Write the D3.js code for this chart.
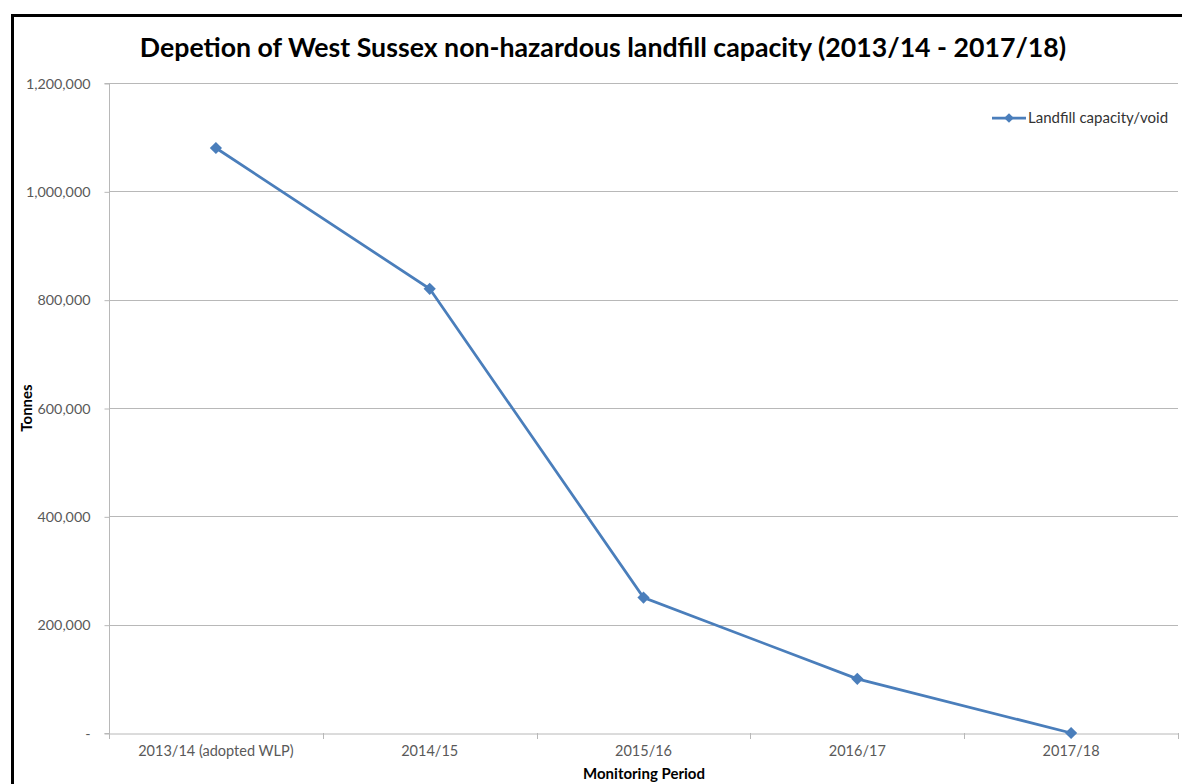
<!DOCTYPE html>
<html><head><meta charset="utf-8">
<script src="https://cdn.jsdelivr.net/npm/d3@7"></script>
<style>html,body{margin:0;padding:0;background:#fff;overflow:hidden}</style>
</head><body>
<svg id="c" width="1182" height="784"></svg>
<script>
const categories = ["2013/14 (adopted WLP)", "2014/15", "2015/16", "2016/17", "2017/18"];
const capacity = [1080000, 820000, 250000, 100000, 0];
const yTicks = [0, 200000, 400000, 600000, 800000, 1000000, 1200000];
const seriesName = "Landfill capacity/void";
const title = "Depetion of West Sussex non-hazardous landfill capacity (2013/14 - 2017/18)";

(function () {
const svg = d3.select("#c");
const font = "Lato, 'Open Sans', sans-serif";
const pLeft = 109, pRight = 1178, pTop = 83, pBottom = 733;
const color = "#4a7ebb";

// outer border (top and left visible)
svg.append("path").attr("d", "M12.5,790 V15.5 H1190").attr("fill", "none").attr("stroke", "#000").attr("stroke-width", 3);

const x = d3.scaleBand().domain(categories).range([pLeft, pRight]).padding(0);
const y = d3.scaleLinear().domain([0, 1200000]).range([pBottom, pTop]);

// gridlines
svg.append("g").selectAll("line").data(yTicks.filter(d => d > 0)).join("line")
  .attr("x1", pLeft).attr("x2", pRight)
  .attr("y1", d => Math.round(y(d)) + 0.5).attr("y2", d => Math.round(y(d)) + 0.5)
  .attr("stroke", "#b8b8b8").attr("stroke-width", 1);

// y axis
const yAxis = svg.append("g").attr("transform", `translate(${pLeft + 0.5},0.5)`)
  .call(d3.axisLeft(y).tickValues(yTicks).tickSize(5).tickPadding(14)
    .tickFormat(d => d === 0 ? "-" : d3.format(",")(d)));
yAxis.select(".domain").attr("stroke", "#b8b8b8").attr("d", `M-5,${pTop}H0V${pBottom}H-5`);
yAxis.selectAll(".tick line").attr("stroke", "#b8b8b8");
yAxis.selectAll("text").attr("fill", "#595959").style("font-family", font).style("font-size", "14.3px");

// x axis
const xAxis = svg.append("g").attr("transform", `translate(0,${pBottom + 0.5})`)
  .call(d3.axisBottom(x).tickSize(0).tickPadding(12));
xAxis.select(".domain").attr("stroke", "#b8b8b8");
xAxis.selectAll("text").attr("fill", "#595959").style("font-family", font).style("font-size", "14.5px");
const bounds = categories.map(c => x(c)).concat([pRight]);
svg.append("g").selectAll("line").data(bounds).join("line")
  .attr("x1", d => Math.round(d) + 0.5).attr("x2", d => Math.round(d) + 0.5)
  .attr("y1", pBottom).attr("y2", pBottom + 6)
  .attr("stroke", "#b8b8b8");

// line
const cx = c => x(c) + x.bandwidth() / 2;
svg.append("path").datum(capacity)
  .attr("d", d3.line().x((d, i) => cx(categories[i])).y(d => y(d)))
  .attr("fill", "none").attr("stroke", color).attr("stroke-width", 2.75);

const diamond = d3.symbol().type(d3.symbolDiamond2).size(95);
svg.append("g").selectAll("path").data(capacity).join("path")
  .attr("transform", (d, i) => `translate(${cx(categories[i])},${y(d)})`)
  .attr("d", diamond).attr("fill", color);

// title
svg.append("text").attr("x", 603).attr("y", 57).attr("text-anchor", "middle")
  .style("font-family", font).style("font-weight", "bold").style("font-size", "26.7px")
  .attr("fill", "#000").text(title);

// axis titles
svg.append("text").attr("transform", "translate(32,408) rotate(-90)").attr("text-anchor", "middle")
  .style("font-family", font).style("font-weight", "bold").style("font-size", "15px").text("Tonnes");
svg.append("text").attr("x", 644).attr("y", 779).attr("text-anchor", "middle")
  .style("font-family", font).style("font-weight", "bold").style("font-size", "15px").text("Monitoring Period");

// legend
const lg = svg.append("g").attr("transform", "translate(992,118)");
lg.append("line").attr("x1", 0).attr("x2", 34).attr("stroke", color).attr("stroke-width", 2.75);
lg.append("path").attr("transform", "translate(17,0)").attr("d", d3.symbol().type(d3.symbolDiamond2).size(60)).attr("fill", color);
lg.append("text").attr("x", 36).attr("y", 5).style("font-family", font).style("font-size", "15px")
  .attr("fill", "#333").text(seriesName);
})();
</script>
</body></html>
